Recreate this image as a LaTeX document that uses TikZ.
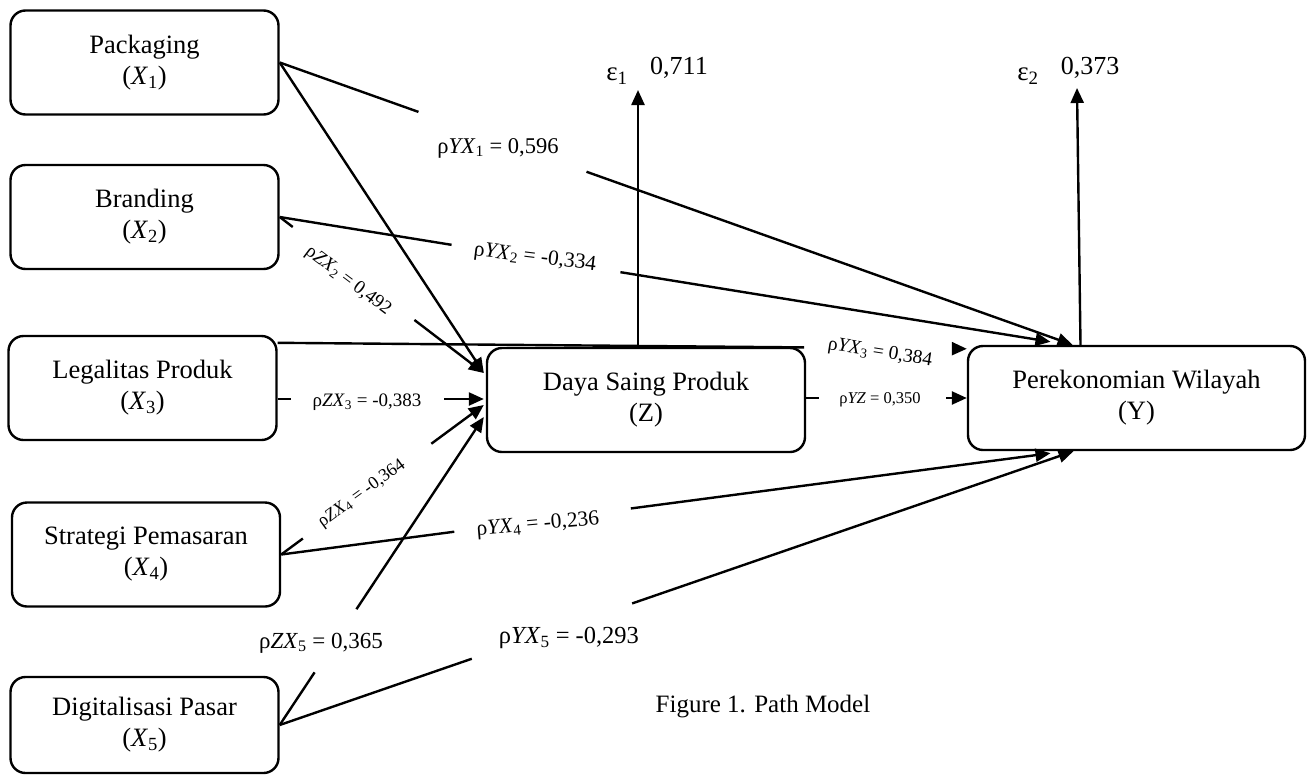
\documentclass[tikz,border=0pt]{standalone}
\usepackage{fontspec}
\setmainfont{Liberation Serif}
\usetikzlibrary{arrows.meta,calc}

% line from #1 towards #2, interrupted between fractions #3 and #4, arrow at #2
\newcommand\gapline[4]{%
  \draw[link] (#1) -- ($(#1)!#3!(#2)$);
  \draw[arr] ($(#1)!#4!(#2)$) -- (#2);}

\begin{document}
\begin{tikzpicture}[x=1pt,y=-1pt,
  box/.style={draw,line width=2.4pt,rounded corners=15pt,minimum width=268pt,
    minimum height=104pt,align=center,inner sep=0pt,
    font=\fontsize{26.5}{31}\selectfont},
  link/.style={line width=2.4pt},
  arr/.style={link,-{Triangle[length=15pt,width=13pt]}},
  lbl/.style={inner sep=0pt,font=\fontsize{#1}{#1}\selectfont},
]
\useasboundingbox (0,0) rectangle (1312,777);

% variables
\node[box] (x1) at (144.5,62.5) {Packaging\\(\textit{X}\textsubscript{1})};
\node[box] (x2) at (144.5,217) {Branding\\(\textit{X}\textsubscript{2})};
\node[box] (x3) at (142.5,388) {Legalitas Produk\\(\textit{X}\textsubscript{3})};
\node[box] (x4) at (146,554.5) {Strategi Pemasaran\\(\textit{X}\textsubscript{4})};
\node[box,minimum height=96pt] (x5) at (144.5,725) {Digitalisasi Pasar\\(\textit{X}\textsubscript{5})};
\node[box,minimum width=318pt] (z) at (646,400) {Daya Saing Produk\\(Z)};
\node[box,minimum width=337pt] (y) at (1136.5,398) {Perekonomian Wilayah\\(Y)};

% arrow ends on Z and Y
\coordinate (zA) at ($(z.west)+(-2,-27)$);
\coordinate (zB) at ($(z.west)+(-2,-1)$);
\coordinate (zC) at ($(z.west)+(-2,5)$);
\coordinate (zD) at ($(z.west)+(-2,17)$);
\coordinate (yA) at ($(y.north)+(-86,-3)$);
\coordinate (yB) at ($(y.north)+(-64,0)$);
\coordinate (yC) at ($(y.north west)+(0,4)$);
\coordinate (yD) at ($(y.south)+(-86,2)$);
\coordinate (yE) at ($(y.south)+(-63,0)$);
\coordinate (x3r) at (x3.east |- zB);
\coordinate (x3t) at ($(x3.north east)+(0,8)$);
\coordinate (zr) at (z.east |- y.west);

% paths to Z
\draw[arr] (x1.east) -- (zA);
\gapline{x2.east}{zA}{0.064}{0.66}
\gapline{x3r}{zB}{0.0625}{0.808}
\gapline{x4.east}{zC}{0.107}{0.741}
\gapline{x5.east}{zD}{0.171}{0.376}

% paths to Y
\gapline{x1.east}{yB}{0.175}{0.387}
\gapline{x2.east}{yA}{0.223}{0.442}
\gapline{x3t}{yC}{0.764}{0.981}
\gapline{zr}{y.west}{0.08}{0.871}
\gapline{x4.east}{yD}{0.225}{0.4545}
\gapline{x5.east}{yE}{0.242}{0.444}

% residuals
\coordinate (e1) at (638,90);
\coordinate (e2) at (1077,88);
\draw[arr] ($(z.north)+(-8,0)$) -- (e1);
\draw[arr] ($(y.north)+(-56,0)$) -- (e2);
\node[lbl=27] (eps1) at (617,76) {ε\textsubscript{1}};
\node[lbl=26] (r1) at (679,68) {0,711};
\node[lbl=27] (eps2) at (1028,76) {ε\textsubscript{2}};
\node[lbl=26] (r2) at (1090,68) {0,373};

% path coefficients
\node[lbl=22.5] (pyx1) at (498,148) {ρ\textit{YX}\textsubscript{1} = 0,596};
\node[lbl=21.5,rotate=-7] (pyx2) at (535,258) {ρ\textit{YX}\textsubscript{2} = -0,334};
\node[lbl=19,rotate=-37] (pzx2) at (348,281) {ρ\textit{ZX}\textsubscript{2} = 0,492};
\node[lbl=19,inner xsep=0pt] (pzx3) at (367,402) {ρ\textit{ZX}\textsubscript{3} = -0,383};
\node[lbl=18,rotate=36] (pzx4) at (362,494) {ρ\textit{ZX}\textsubscript{4} = -0,364};
\node[lbl=19.5,rotate=-9] (pyx3) at (880,353) {ρ\textit{YX}\textsubscript{3} = 0,384};
\node[lbl=16.5] (pyz) at (880,400) {ρ\textit{YZ} = 0,350};
\node[lbl=21.5,rotate=5] (pyx4) at (538,525) {ρ\textit{YX}\textsubscript{4} = -0,236};
\node[lbl=24.5] (pyx5) at (569,638) {ρ\textit{YX}\textsubscript{5} = -0,293};
\node[lbl=23] (pzx5) at (321,643) {ρ\textit{ZX}\textsubscript{5} = 0,365};

% caption
\node[lbl=25] (cap) at (763,707) {Figure 1. Path Model};
\end{tikzpicture}
\end{document}
